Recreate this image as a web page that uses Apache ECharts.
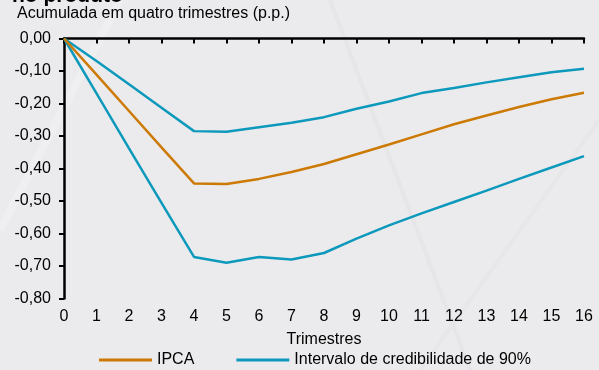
<!DOCTYPE html>
<html>
<head>
<meta charset="utf-8">
<script src="https://cdn.jsdelivr.net/npm/echarts@6/dist/echarts.min.js"></script>
<style>
  html, body { margin: 0; padding: 0; background: #ebebed; }
  #chart { width: 599px; height: 370px; }
</style>
</head>
<body>
<div id="chart"></div>
<script>
// Quarters after the shock
const quarters = [0, 1, 2, 3, 4, 5, 6, 7, 8, 9, 10, 11, 12, 13, 14, 15, 16];
// Cumulative four-quarter IPCA response (p.p.)
const ipca = [0, -0.111, -0.223, -0.335, -0.446, -0.448, -0.432, -0.411, -0.386, -0.356, -0.326, -0.295, -0.264, -0.237, -0.211, -0.187, -0.167];
// 90% credibility band
const bandUpper = [0, -0.069, -0.141, -0.213, -0.285, -0.287, -0.273, -0.259, -0.242, -0.216, -0.194, -0.168, -0.152, -0.135, -0.119, -0.104, -0.093];
const bandLower = [0, -0.169, -0.338, -0.506, -0.672, -0.690, -0.672, -0.680, -0.660, -0.616, -0.575, -0.538, -0.503, -0.468, -0.432, -0.397, -0.362];

const ORANGE = '#cc7a05';
const BLUE = '#0d99bb';
const FONT = 'Liberation Sans, Arial, sans-serif';
const FS = 16;

const pairs = vals => quarters.map((q, i) => [q, vals[i]]);

const chart = echarts.init(document.getElementById('chart'));
chart.setOption({
  backgroundColor: '#ebebed',
  animation: false,
  textStyle: { fontFamily: FONT },
  title: [
    { text: 'no produto', left: 12, top: -14, padding: 0,
      textStyle: { fontFamily: FONT, fontSize: 21, fontWeight: 'bold', color: '#000' } },
    { text: 'Acumulada em quatro trimestres (p.p.)', left: 17, top: 6, padding: 0,
      textStyle: { fontFamily: FONT, fontSize: FS, fontWeight: 'normal', color: '#000' } }
  ],
  graphic: [
    { type: 'line', silent: true, z: -10,
      shape: { x1: 330, y1: 0, x2: 470, y2: 370 },
      style: { stroke: '#e6e6e9', lineWidth: 4 } },
    { type: 'line', silent: true, z: -10,
      shape: { x1: 120, y1: 0, x2: 0, y2: 230 },
      style: { stroke: '#efeff1', lineWidth: 8 } },
    { type: 'line', silent: true, z: -10,
      shape: { x1: 599, y1: 120, x2: 420, y2: 370 },
      style: { stroke: '#e7e7ea', lineWidth: 4 } }
  ],
  grid: { left: 64, right: 15, top: 38.5, bottom: 71.5, containLabel: false },
  legend: {
    top: 352, left: 99, padding: 0,
    icon: 'rect', itemWidth: 53, itemHeight: 3, itemGap: 42,
    textStyle: { fontFamily: FONT, fontSize: FS, color: '#000', padding: [0, 0, 0, 0] },
    data: ['IPCA', 'Intervalo de credibilidade de 90%']
  },
  xAxis: [
    {
      type: 'value', position: 'top', min: 0, max: 16, interval: 1,
      axisLine: { onZero: false, lineStyle: { color: '#000', width: 2.5 } },
      axisTick: { inside: true, length: 5, lineStyle: { color: '#000', width: 2 } },
      axisLabel: { show: false },
      splitLine: { show: false }
    },
    {
      type: 'value', position: 'bottom', min: 0, max: 16, interval: 1,
      name: 'Trimestres', nameLocation: 'middle', nameGap: 33,
      nameTextStyle: { fontFamily: FONT, fontSize: FS, color: '#000' },
      axisLine: { show: false, onZero: false },
      axisTick: { show: false },
      axisLabel: { margin: 10, fontFamily: FONT, fontSize: FS, color: '#000' },
      splitLine: { show: false }
    }
  ],
  yAxis: {
    type: 'value', min: -0.8, max: 0, interval: 0.1,
    axisLine: { show: true, onZero: false, lineStyle: { color: '#000', width: 2.5 } },
    axisTick: { show: true, length: 5, lineStyle: { color: '#000', width: 2 } },
    axisLabel: {
      margin: 13, fontFamily: FONT, fontSize: FS, color: '#000',
      formatter: v => v.toFixed(2).replace('.', ',').replace('-0,00', '0,00')
    },
    splitLine: { show: false }
  },
  series: [
    { name: 'Intervalo de credibilidade de 90%', type: 'line', xAxisIndex: 0,
      data: pairs(bandUpper), symbol: 'none',
      lineStyle: { color: BLUE, width: 2.5 }, itemStyle: { color: BLUE } },
    { name: 'Intervalo de credibilidade de 90%', type: 'line', xAxisIndex: 0,
      data: pairs(bandLower), symbol: 'none',
      lineStyle: { color: BLUE, width: 2.5 }, itemStyle: { color: BLUE } },
    { name: 'IPCA', type: 'line', xAxisIndex: 0,
      data: pairs(ipca), symbol: 'none',
      lineStyle: { color: ORANGE, width: 2.5 }, itemStyle: { color: ORANGE } }
  ]
});
</script>
</body>
</html>
